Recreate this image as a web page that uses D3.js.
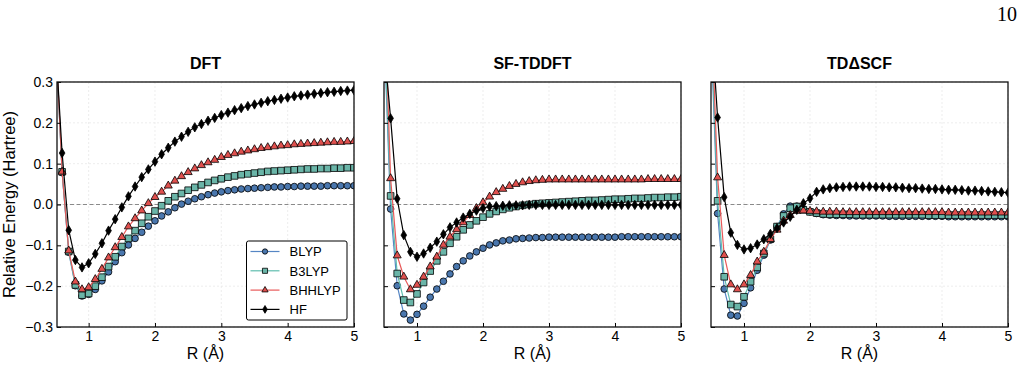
<!DOCTYPE html>
<html>
<head>
<meta charset="utf-8">
<script src="https://cdn.jsdelivr.net/npm/d3@7"></script>
<style>
  body { margin: 0; background: white; }
  text { font-family: Arial, "Liberation Sans", sans-serif; }
</style>
</head>
<body>
<script>

// DATA

var R = [0.5, 0.6, 0.7, 0.8, 0.9, 1.0, 1.1, 1.2, 1.3, 1.4,
  1.5, 1.6, 1.7, 1.8, 1.9, 2.0, 2.1, 2.2, 2.3, 2.4,
  2.5, 2.6, 2.7, 2.8, 2.9, 3.0, 3.1, 3.2, 3.3, 3.4,
  3.5, 3.6, 3.7, 3.8, 3.9, 4.0, 4.1, 4.2, 4.3, 4.4,
  4.5, 4.6, 4.7, 4.8, 4.9, 5.0];

var methods = ['BLYP', 'B3LYP', 'BHHLYP', 'HF'];
var panelTitles = ['DFT', 'SF-TDDFT', 'TD\u0394SCF'];
var yTicks = [-0.3, -0.2, -0.1, 0.0, 0.1, 0.2, 0.3];
var xTicks = [1, 2, 3, 4, 5];

// DFT
var dftBLYP = [0.42, 0.078, -0.117, -0.199, -0.224, -0.220, -0.208, -0.187, -0.165, -0.140,
  -0.118, -0.099, -0.083, -0.068, -0.053, -0.040, -0.028, -0.018, -0.008, 0.001,
  0.008, 0.014, 0.019, 0.024, 0.028, 0.031, 0.034, 0.036, 0.038, 0.039,
  0.040, 0.041, 0.042, 0.043, 0.043, 0.044, 0.044, 0.045, 0.045, 0.045,
  0.045, 0.046, 0.046, 0.046, 0.046, 0.046];
var dftB3LYP = [0.42, 0.080, -0.115, -0.197, -0.222, -0.218, -0.200, -0.178, -0.152, -0.128,
  -0.103, -0.083, -0.064, -0.046, -0.030, -0.016, -0.003, 0.009, 0.019, 0.027,
  0.035, 0.042, 0.048, 0.054, 0.059, 0.063, 0.067, 0.070, 0.073, 0.075,
  0.077, 0.079, 0.081, 0.082, 0.083, 0.084, 0.085, 0.086, 0.087, 0.087,
  0.088, 0.088, 0.089, 0.089, 0.090, 0.090];
var dftBHHLYP = [0.42, 0.080, -0.113, -0.189, -0.208, -0.203, -0.183, -0.158, -0.130, -0.105,
  -0.080, -0.054, -0.034, -0.015, 0.003, 0.018, 0.031, 0.046, 0.058, 0.069,
  0.079, 0.088, 0.096, 0.103, 0.109, 0.116, 0.121, 0.125, 0.129, 0.132,
  0.135, 0.138, 0.140, 0.142, 0.144, 0.145, 0.147, 0.148, 0.149, 0.150,
  0.151, 0.152, 0.153, 0.153, 0.154, 0.155];
var dftHF = [0.40, 0.126, -0.063, -0.136, -0.154, -0.144, -0.121, -0.095, -0.064, -0.036,
  -0.007, 0.020, 0.044, 0.067, 0.086, 0.105, 0.123, 0.139, 0.154, 0.166,
  0.178, 0.189, 0.197, 0.205, 0.212, 0.219, 0.225, 0.231, 0.236, 0.241,
  0.245, 0.249, 0.253, 0.256, 0.259, 0.262, 0.265, 0.267, 0.269, 0.271,
  0.273, 0.275, 0.276, 0.278, 0.279, 0.280];

// SF-TDDFT
var sfBLYP = [0.43, -0.011, -0.199, -0.268, -0.283, -0.269, -0.249, -0.227, -0.207, -0.188,
  -0.170, -0.152, -0.138, -0.126, -0.116, -0.107, -0.099, -0.094, -0.089, -0.087,
  -0.084, -0.083, -0.082, -0.081, -0.081, -0.080, -0.080, -0.080, -0.080, -0.080,
  -0.080, -0.080, -0.080, -0.080, -0.080, -0.080, -0.079, -0.079, -0.079, -0.079,
  -0.079, -0.079, -0.079, -0.079, -0.079, -0.079];
var sfB3LYP = [0.45, 0.021, -0.169, -0.234, -0.240, -0.219, -0.191, -0.163, -0.138, -0.116,
  -0.095, -0.079, -0.062, -0.050, -0.040, -0.031, -0.023, -0.017, -0.012, -0.008,
  -0.005, -0.002, 0.000, 0.002, 0.003, 0.004, 0.005, 0.006, 0.007, 0.008,
  0.009, 0.010, 0.010, 0.011, 0.012, 0.013, 0.013, 0.014, 0.015, 0.015,
  0.016, 0.017, 0.017, 0.018, 0.018, 0.019];
var sfBHHLYP = [0.55, 0.064, -0.125, -0.177, -0.208, -0.197, -0.177, -0.152, -0.128, -0.099,
  -0.079, -0.061, -0.044, -0.026, -0.009, 0.005, 0.019, 0.030, 0.038, 0.045,
  0.050, 0.054, 0.057, 0.059, 0.060, 0.061, 0.061, 0.061, 0.061, 0.061,
  0.061, 0.061, 0.061, 0.061, 0.061, 0.061, 0.061, 0.061, 0.061, 0.061,
  0.062, 0.062, 0.062, 0.062, 0.062, 0.062];
var sfHF = [0.39, 0.211, 0.014, -0.075, -0.116, -0.128, -0.120, -0.106, -0.091, -0.073,
  -0.056, -0.044, -0.032, -0.023, -0.015, -0.009, -0.005, -0.004, -0.003, -0.002,
  -0.002, -0.002, -0.001, -0.001, -0.001, -0.001, -0.001, -0.001, -0.001, -0.001,
  -0.001, -0.001, -0.001, -0.001, -0.001, -0.001, -0.001, -0.001, -0.001, -0.001,
  -0.001, -0.001, -0.001, -0.001, -0.001, -0.001];

// TDdeltaSCF
var tdBLYP = [0.42, -0.022, -0.207, -0.271, -0.273, -0.242, -0.204, -0.161, -0.124, -0.087,
  -0.054, -0.023, -0.004, -0.004, -0.011, -0.018, -0.022, -0.025, -0.026, -0.027,
  -0.027, -0.028, -0.028, -0.028, -0.028, -0.028, -0.028, -0.029, -0.029, -0.029,
  -0.029, -0.029, -0.029, -0.029, -0.029, -0.029, -0.030, -0.030, -0.030, -0.030,
  -0.030, -0.030, -0.030, -0.030, -0.030, -0.030];
var tdB3LYP = [0.45, 0.009, -0.177, -0.245, -0.250, -0.226, -0.189, -0.154, -0.120, -0.085,
  -0.054, -0.028, -0.009, -0.005, -0.013, -0.018, -0.021, -0.023, -0.024, -0.024,
  -0.024, -0.024, -0.025, -0.025, -0.025, -0.025, -0.025, -0.025, -0.025, -0.025,
  -0.025, -0.025, -0.025, -0.026, -0.026, -0.026, -0.026, -0.026, -0.026, -0.026,
  -0.026, -0.026, -0.026, -0.026, -0.026, -0.026];
var tdBHHLYP = [0.50, 0.066, -0.124, -0.196, -0.208, -0.196, -0.173, -0.140, -0.116, -0.085,
  -0.062, -0.040, -0.026, -0.016, -0.015, -0.016, -0.017, -0.018, -0.018, -0.018,
  -0.019, -0.019, -0.019, -0.019, -0.019, -0.019, -0.019, -0.019, -0.019, -0.019,
  -0.019, -0.019, -0.019, -0.019, -0.019, -0.019, -0.020, -0.020, -0.020, -0.020,
  -0.020, -0.020, -0.020, -0.020, -0.020, -0.020];
var tdHF = [0.46, 0.213, 0.018, -0.069, -0.099, -0.110, -0.107, -0.098, -0.085, -0.072,
  -0.058, -0.044, -0.030, -0.013, 0.003, 0.015, 0.031, 0.037, 0.040, 0.042,
  0.043, 0.044, 0.044, 0.044, 0.044, 0.043, 0.043, 0.042, 0.042, 0.041,
  0.040, 0.040, 0.039, 0.038, 0.038, 0.037, 0.036, 0.036, 0.035, 0.034,
  0.034, 0.033, 0.032, 0.031, 0.030, 0.029];

// STYLE

var lineColors = { BLYP: '#5686c4', B3LYP: '#5fbdae', BHHLYP: '#e85a5a', HF: '#000000' };
var fillColors = { BLYP: '#4a77ae', B3LYP: '#6ab5a8', BHHLYP: '#e0504e', HF: '#000000' };

// thin diamond like matplotlib 'd'
var thinDiamond = {
  draw: function(ctx, size){
    var r = Math.sqrt(size) / 2;
    ctx.moveTo(0, -r);
    ctx.lineTo(r * 0.6, 0);
    ctx.lineTo(0, r);
    ctx.lineTo(-r * 0.6, 0);
    ctx.closePath();
  }
};

var markerTypes = { BLYP: d3.symbolCircle, B3LYP: d3.symbolSquare, BHHLYP: d3.symbolTriangle, HF: thinDiamond };
var markerSizes = { BLYP: 35, B3LYP: 44, BHHLYP: 28, HF: 88 };
var legendSizes = { BLYP: 22, B3LYP: 26, BHHLYP: 17, HF: 60 };

var W = 1024, H = 370;
var plotTop = 82, plotBottom = 327, panelW = 297;

var svg = d3.select('body').append('svg')
  .attr('width', W)
  .attr('height', H);

// page number
svg.append('text')
  .attr('x', 1017)
  .attr('y', 20.5)
  .attr('text-anchor', 'end')
  .style('font-family', '"Liberation Serif", "DejaVu Serif", serif')
  .style('font-size', '20px')
  .text('10');

var panels = [
  { title: panelTitles[0], left: 57, xMin: 0.523, series: [dftBLYP, dftB3LYP, dftBHHLYP, dftHF] },
  { title: panelTitles[1], left: 384, xMin: 0.5, series: [sfBLYP, sfB3LYP, sfBHHLYP, sfHF] },
  { title: panelTitles[2], left: 711, xMin: 0.5, series: [tdBLYP, tdB3LYP, tdBHHLYP, tdHF] }
];

var fmt = d3.format('.1f');

// DRAW PANELS

var drawPanel = function(p, i){
  var x = d3.scaleLinear().domain([p.xMin, 5]).range([p.left, p.left + panelW]);
  var y = d3.scaleLinear().domain([-0.3, 0.3]).range([plotBottom, plotTop]);

  var g = svg.append('g');

  g.append('clipPath')
    .attr('id', 'clip' + i)
    .append('rect')
    .attr('x', p.left)
    .attr('y', plotTop)
    .attr('width', panelW)
    .attr('height', plotBottom - plotTop);

  // grid
  g.selectAll('.gx')
    .data(xTicks)
    .enter()
    .append('line')
    .attr('x1', function(d){ return x(d); })
    .attr('x2', function(d){ return x(d); })
    .attr('y1', plotTop)
    .attr('y2', plotBottom)
    .style('stroke', '#e8e8e8')
    .style('stroke-width', 0.8)
    .style('stroke-dasharray', '2,2');

  g.selectAll('.gy')
    .data(yTicks)
    .enter()
    .append('line')
    .attr('x1', p.left)
    .attr('x2', p.left + panelW)
    .attr('y1', function(d){ return y(d); })
    .attr('y2', function(d){ return y(d); })
    .style('stroke', '#e8e8e8')
    .style('stroke-width', 0.8)
    .style('stroke-dasharray', '2,2');

  // zero line
  g.append('line')
    .attr('x1', p.left)
    .attr('x2', p.left + panelW)
    .attr('y1', y(0))
    .attr('y2', y(0))
    .style('stroke', '#8a8a8a')
    .style('stroke-width', 1)
    .style('stroke-dasharray', '4,2.5');

  var plot = g.append('g').attr('clip-path', 'url(#clip' + i + ')');

  var line = d3.line()
    .x(function(d){ return x(d[0]); })
    .y(function(d){ return y(d[1]); });

  methods.forEach(function(m, k){
    var pts = R.map(function(r, j){ return [r, p.series[k][j]]; });

    plot.append('path')
      .datum(pts)
      .attr('d', line)
      .style('fill', 'none')
      .style('stroke', lineColors[m])
      .style('stroke-width', 1.2);

    plot.selectAll('.m' + k)
      .data(pts)
      .enter()
      .append('path')
      .attr('d', d3.symbol().type(markerTypes[m]).size(markerSizes[m]))
      .attr('transform', function(d){ return 'translate(' + x(d[0]) + ',' + y(d[1]) + ')'; })
      .style('fill', fillColors[m])
      .style('stroke', '#000')
      .style('stroke-width', 0.8);
  });

  // axes, ticks point inward
  var xAxis = g.append('g')
    .attr('transform', 'translate(0,' + plotBottom + ')')
    .call(d3.axisBottom(x).tickValues(xTicks).tickSizeInner(-4).tickSizeOuter(0).tickPadding(4).tickFormat(d3.format('d')));

  var yAxis = g.append('g')
    .attr('transform', 'translate(' + p.left + ',0)')
    .call(d3.axisLeft(y).tickValues(yTicks).tickSizeInner(-4).tickSizeOuter(0).tickPadding(4)
      .tickFormat(i === 0 ? fmt : function(){ return ''; }));

  [xAxis, yAxis].forEach(function(a){
    a.select('.domain').remove();
    a.selectAll('text').style('font-size', '14px').style('fill', '#000').style('font-family', 'Arial, "Liberation Sans", sans-serif');
    a.selectAll('line').style('stroke', '#000');
  });

  // frame
  g.append('rect')
    .attr('x', p.left)
    .attr('y', plotTop)
    .attr('width', panelW)
    .attr('height', plotBottom - plotTop)
    .style('fill', 'none')
    .style('stroke', '#111')
    .style('stroke-width', 1.3);

  // title
  g.append('text')
    .attr('x', p.left + panelW / 2)
    .attr('y', 68.5)
    .attr('text-anchor', 'middle')
    .style('font-size', '16px')
    .style('font-weight', 'bold')
    .text(p.title);

  // x label
  g.append('text')
    .attr('x', p.left + panelW / 2)
    .attr('y', 359)
    .attr('text-anchor', 'middle')
    .style('font-size', '16px')
    .text('R (\u00c5)');
};

panels.forEach(drawPanel);

// y label
svg.append('text')
  .attr('transform', 'translate(15,' + ((plotTop + plotBottom) / 2) + ') rotate(-90)')
  .attr('text-anchor', 'middle')
  .style('font-size', '16.5px')
  .text('Relative Energy (Hartree)');

// LEGEND

var legend = svg.append('g').attr('transform', 'translate(246.5,241)');

legend.append('rect')
  .attr('width', 100.5)
  .attr('height', 79)
  .attr('rx', 2)
  .style('fill', 'white')
  .style('stroke', '#000')
  .style('stroke-width', 1);

var rows = legend.selectAll('.row')
  .data(methods)
  .enter()
  .append('g')
  .attr('transform', function(d, k){ return 'translate(0,' + (10.5 + k * 19.3) + ')'; });

rows.append('line')
  .attr('x1', 4)
  .attr('x2', 33)
  .style('stroke', function(d){ return lineColors[d]; })
  .style('stroke-width', 1.2);

rows.append('path')
  .attr('d', function(d){ return d3.symbol().type(markerTypes[d]).size(legendSizes[d])(); })
  .attr('transform', 'translate(18.5,0)')
  .style('fill', function(d){ return fillColors[d]; })
  .style('stroke', '#000')
  .style('stroke-width', 0.8);

rows.append('text')
  .attr('x', 43)
  .attr('y', 4.7)
  .style('font-size', '13px')
  .text(function(d){ return d; });

</script>
</body>
</html>
